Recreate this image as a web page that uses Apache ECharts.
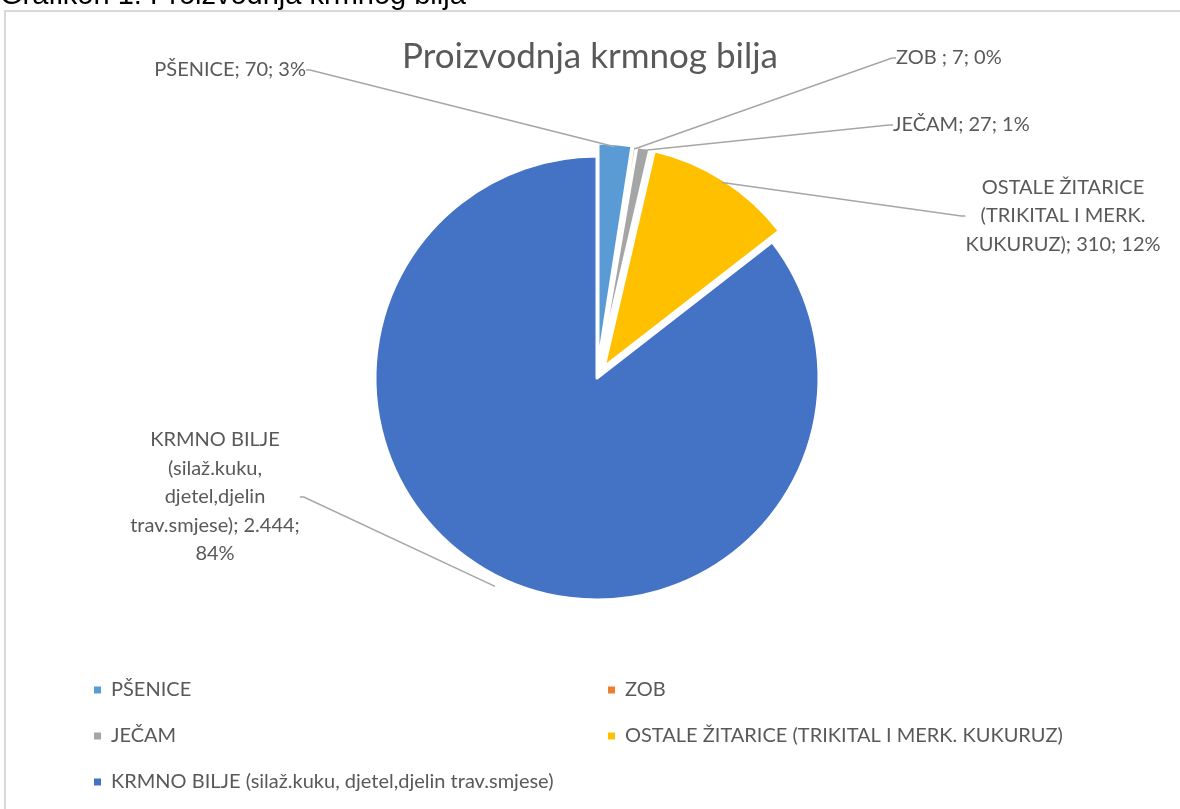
<!DOCTYPE html>
<html>
<head>
<meta charset="utf-8">
<script src="https://cdn.jsdelivr.net/npm/echarts@6/dist/echarts.min.js"></script>
<style>
  html, body { margin: 0; padding: 0; background: #fff; }
  #main { width: 1180px; height: 809px; }
</style>
</head>
<body>
<div id="main"></div>
<script>
  // podaci
  const categories = ['PŠENICE', 'ZOB', 'JEČAM', 'OSTALE ŽITARICE (TRIKITAL I MERK. KUKURUZ)', 'KRMNO BILJE (silaž.kuku, djetel,djelin trav.smjese)'];
  const values = [70, 7, 27, 310, 2444];
  const percents = [3, 0, 1, 12, 84];
  const labelNames = ['PŠENICE', 'ZOB ', 'JEČAM', 'OSTALE ŽITARICE\n(TRIKITAL I MERK.\nKUKURUZ)', 'KRMNO BILJE\n(silaž.kuku,\ndjetel,djelin\ntrav.smjese)'];
  const colors = ['#5B9BD5', '#ED7D31', '#A5A5A5', '#FFC000', '#4472C4'];

  const FONT = 'Lato, "Open Sans", sans-serif';
  const CENTER = [597, 378];
  const RADIUS = 222;

  // where each data label sits
  const labelSpots = [
    { x: 306, y: 70, align: 'right' },
    { x: 896, y: 58, align: 'left' },
    { x: 893, y: 125, align: 'left' },
    { x: 1063, y: 216, align: 'center' },
    { x: 215, y: 497, align: 'center' }
  ];

  const fmtNum = (v) => String(v).replace(/\B(?=(\d{3})+(?!\d))/g, '.');

  const chart = echarts.init(document.getElementById('main'));
  const option = {
    animation: false,
    color: colors,
    title: {
      text: 'Proizvodnja krmnog bilja',
      left: 'center',
      top: 34,
      textStyle: { fontFamily: FONT, fontSize: 35, fontWeight: 'normal', color: '#595959' }
    },
    graphic: [
      {
        type: 'text',
        x: 0,
        y: 10,
        style: { text: 'Grafikon 1: Proizvodnja krmnog bilja', font: '29px "Liberation Sans", Arial, sans-serif', fill: '#000', verticalAlign: 'bottom' }
      },
      {
        type: 'rect',
        shape: { x: 5, y: 11, width: 1200, height: 850 },
        style: { fill: 'none', stroke: '#D9D9D9', lineWidth: 2 },
        silent: true
      }
    ],
    legend: {
      left: 92,
      top: 671,
      padding: 0,
      width: 1080,
      itemGap: 8,
      itemWidth: 9,
      itemHeight: 9,
      icon: 'rect',
      selectedMode: false,
      data: categories,
      textStyle: { fontFamily: FONT, fontSize: 20, color: '#595959', width: 487, lineHeight: 38, padding: [0, 0, 0, 4] }
    },
    series: [
      {
        // visible slices, small ones pulled out
        type: 'pie',
        center: CENTER,
        radius: RADIUS,
        startAngle: 90,
        clockwise: true,
        selectedMode: 'multiple',
        selectedOffset: 13,
        itemStyle: { borderColor: '#fff', borderWidth: 3 },
        label: { show: false },
        labelLine: { show: false },
        emphasis: { disabled: true },
        data: categories.map((name, i) => ({ name: name, value: values[i], selected: i < 4 }))
      },
      {
        // data labels with leader lines
        type: 'pie',
        center: CENTER,
        radius: RADIUS + 10,
        startAngle: 90,
        clockwise: true,
        silent: true,
        z: 3,
        itemStyle: { color: 'rgba(0,0,0,0)', borderWidth: 0 },
        label: {
          show: true,
          fontFamily: FONT,
          fontSize: 20,
          lineHeight: 28.5,
          color: '#595959',
          align: 'center',
          formatter: (p) => labelNames[p.dataIndex] + '; ' + fmtNum(p.value) + ';' + (p.dataIndex === 4 ? '\n' : ' ') + percents[p.dataIndex] + '%'
        },
        labelLine: {
          show: true,
          length: 10,
          length2: 4,
          lineStyle: { color: '#A6A6A6', width: 1.5 }
        },
        labelLayout: (params) => {
          const s = labelSpots[params.dataIndex];
          return { x: s.x, y: s.y, align: s.align, verticalAlign: 'middle' };
        },
        data: categories.map((name, i) => ({ name: name, value: values[i] }))
      }
    ]
  };
  chart.setOption(option);
</script>
</body>
</html>
